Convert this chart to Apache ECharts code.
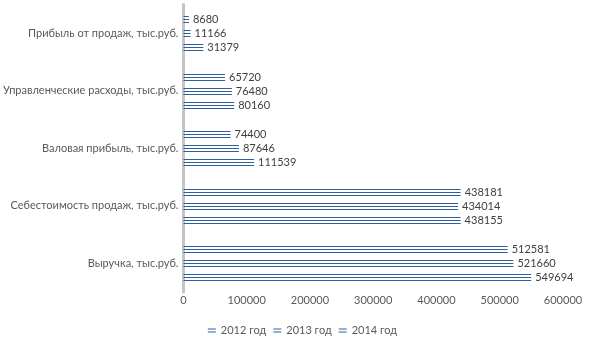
<!DOCTYPE html>
<html><head><meta charset="utf-8">
<script src="https://cdn.jsdelivr.net/npm/echarts@6/dist/echarts.min.js"></script>
<style>html,body{margin:0;padding:0;background:#fff}#c{width:605px;height:340px}</style>
</head><body><div id="c"></div>
<script>
const categories = ['Выручка, тыс.руб.', 'Себестоимость продаж, тыс.руб.', 'Валовая прибыль, тыс.руб.', 'Управленческие расходы, тыс.руб.', 'Прибыль от продаж, тыс.руб.'];
const seriesNames = ['2012 год', '2013 год', '2014 год'];
const values2012 = [512581, 438181, 74400, 65720, 8680];
const values2013 = [521660, 434014, 87646, 76480, 11166];
const values2014 = [549694, 438155, 111539, 80160, 31379];
const xTicks = [0, 100000, 200000, 300000, 400000, 500000, 600000];

const BLUE = '#2F5E9F';
const FONT = 'Lato, "Noto Sans", sans-serif';
const allVals = [values2012, values2013, values2014];

function makeRender(si) {
  return function (params, api) {
    const cat = api.value(1);
    const val = api.value(0);
    const s = api.coord([0, cat]);
    const e = api.coord([val, cat]);
    const yc = Math.round(s[1] + (si - 1) * 14) + 0.5;
    const x0 = s[0];
    const x1 = e[0];
    const lines = [-3, 0, 3].map(d => ({
      type: 'line',
      shape: { x1: x0, y1: yc + d, x2: x1, y2: yc + d },
      style: { stroke: BLUE, lineWidth: 1 }
    }));
    lines.push({
      type: 'text',
      style: { text: String(val), x: x1 + 4, y: yc, verticalAlign: 'middle', align: 'left', fill: '#404040', font: '11px ' + FONT }
    });
    return { type: 'group', children: lines };
  };
}

const chart = echarts.init(document.getElementById('c'), null, { renderer: 'canvas' });
chart.setOption({
  animation: false,
  textStyle: { fontFamily: FONT },
  grid: { left: 181.5, right: 42, top: 4.5, height: 287.5, containLabel: false },
  legend: {
    top: 320, left: 'center',
    itemWidth: 8, itemHeight: 4, itemGap: 7,
    icon: 'path://M0,0H8V1H0ZM0,3H8V4H0Z',
    textStyle: { color: '#595959', fontSize: 11, fontFamily: FONT },
    data: seriesNames
  },
  xAxis: {
    type: 'value', min: xTicks[0], max: xTicks[xTicks.length - 1], interval: xTicks[1] - xTicks[0],
    axisLine: { show: false }, axisTick: { show: false }, splitLine: { show: false },
    axisLabel: { color: '#595959', fontSize: 11, margin: 3, fontFamily: FONT, formatter: v => String(v) }
  },
  yAxis: {
    type: 'category', data: categories,
    axisLine: { show: true, lineStyle: { color: '#C4C4C4', width: 3 } },
    axisTick: { show: false },
    axisLabel: { color: '#595959', fontSize: 11, margin: 5, fontFamily: FONT }
  },
  series: seriesNames.map((n, si) => ({
    name: n, type: 'custom',
    itemStyle: { color: BLUE },
    encode: { x: 0, y: 1 },
    renderItem: makeRender(si),
    data: allVals[si].map((v, i) => [v, i])
  }))
});
</script></body></html>
